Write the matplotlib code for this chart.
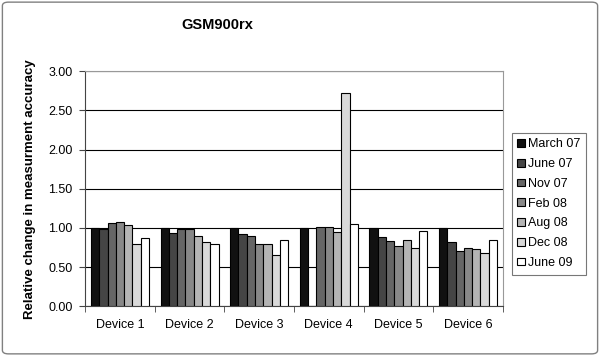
import matplotlib.pyplot as plt
import numpy as np
from matplotlib.patches import FancyBboxPatch

devices = ['Device 1', 'Device 2', 'Device 3', 'Device 4', 'Device 5', 'Device 6']
series = ['March 07', 'June 07', 'Nov 07', 'Feb 08', 'Aug 08', 'Dec 08', 'June 09']
march07 = [1.00, 1.00, 1.00, 1.00, 1.00, 1.00]
june07 = [0.99, 0.94, 0.92, 0.00, 0.88, 0.82]
nov07 = [1.06, 0.98, 0.89, 1.01, 0.83, 0.71]
feb08 = [1.08, 0.99, 0.80, 1.01, 0.77, 0.74]
aug08 = [1.04, 0.89, 0.80, 0.95, 0.84, 0.73]
dec08 = [0.79, 0.82, 0.65, 2.72, 0.74, 0.68]
june09 = [0.87, 0.79, 0.84, 1.05, 0.96, 0.85]
values = [march07, june07, nov07, feb08, aug08, dec08, june09]
colors = ['#111111', '#454545', '#666666', '#888888', '#b4b4b4', '#d9d9d9', '#ffffff']

plt.rcParams['font.family'] = ['Liberation Sans', 'DejaVu Sans']

fig = plt.figure(figsize=(6, 3.56), dpi=100)
fig.patches.append(FancyBboxPatch((0.004, 0.006), 0.992, 0.988, boxstyle='round,pad=0,rounding_size=0.01',
                                  transform=fig.transFigure, fill=False, edgecolor='#808080', lw=1))
ax = fig.add_axes([0.142, 0.14, 0.696, 0.66])

x = np.arange(len(devices))
w = 0.119
handles = []
for i, (name, vals) in enumerate(zip(series, values)):
    b = ax.bar(x + (i - 3) * w, vals, w, color=colors[i], edgecolor='black', lw=0.8, label=name, zorder=3)
    handles.append(b)

ax.set_xlim(-0.5, len(devices) - 0.5)
ax.set_ylim(0, 3)
ax.set_yticks(np.arange(0, 3.01, 0.5))
ax.set_yticklabels([f'{v:.2f}' for v in np.arange(0, 3.01, 0.5)], fontsize=9)
ax.yaxis.grid(True, color='black', lw=0.8, zorder=0)
ax.set_axisbelow(True)
ax.set_xticks(x)
ax.set_xticklabels(devices, fontsize=9)
ax.tick_params(axis='x', length=0, pad=9)
ax.set_xticks(np.arange(-0.5, len(devices)), minor=True)
ax.tick_params(axis='x', which='minor', length=4, color='#444444', direction='out')
ax.tick_params(axis='y', length=4, color='#444444', pad=5)
for s in ['top', 'right']:
    ax.spines[s].set_color('#999999')
for s in ['left', 'bottom']:
    ax.spines[s].set_color('#444444')

ax.set_ylabel('Relative change in measurment accuracy', fontsize=9.5, fontweight='bold', labelpad=9)
fig.text(0.363, 0.93, 'GSM900rx', fontsize=10.5, fontweight='bold', ha='center', va='center')

leg = fig.legend(handles=handles, labels=series, loc='upper left', bbox_to_anchor=(0.853, 0.627),
                 fontsize=9, frameon=True, fancybox=False, edgecolor='#555555',
                 handlelength=0.6, handleheight=0.6, handletextpad=0.25, labelspacing=0.62,
                 borderpad=0.45, borderaxespad=0)
leg.get_frame().set_linewidth(0.8)

fig.savefig('out.png', dpi=100)
